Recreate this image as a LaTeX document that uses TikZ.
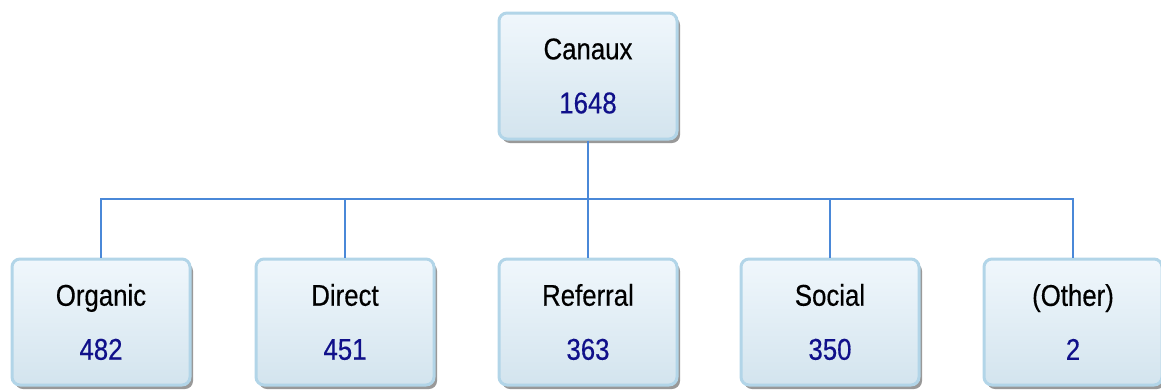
\documentclass[tikz,border=0pt]{standalone}
\usepackage{fontspec}
\usetikzlibrary{shadows}
\newfontfamily\boxfont[FakeStretch=0.86,FakeBold=0.4]{Liberation Sans}
\definecolor{boxborder}{HTML}{B2D5E8}
\definecolor{boxtop}{HTML}{F0F7FC}
\definecolor{boxbot}{HTML}{D3E4EE}
\definecolor{numcol}{HTML}{10108A}
\definecolor{linecol}{HTML}{4A88D8}
\tikzset{
  catbox/.style={draw=boxborder, line width=3pt, rounded corners=8pt,
    top color=boxtop, bottom color=boxbot,
    minimum width=178pt, minimum height=126pt, inner sep=0pt,
    align=center, font=\boxfont\fontsize{30}{54}\selectfont,
    drop shadow={shadow xshift=3pt, shadow yshift=-4pt, fill=black, opacity=0.4}},
  conn/.style={draw=linecol, line width=1.6pt}
}
\newcommand{\boxtxt}[2]{#1\\{\color{numcol}#2}}
\begin{document}
\begin{tikzpicture}[x=1pt,y=-1pt]
\useasboundingbox (0,0) rectangle (1161,389);
\node[catbox] (top) at (588,76) {\boxtxt{Canaux}{1648}};
\node[catbox] (org) at (101,322) {\boxtxt{Organic}{482}};
\node[catbox] (dir) at (345,322) {\boxtxt{Direct}{451}};
\node[catbox] (ref) at (588,322) {\boxtxt{Referral}{363}};
\node[catbox] (soc) at (830,322) {\boxtxt{Social}{350}};
\node[catbox] (oth) at (1073,322) {\boxtxt{(Other)}{2}};
\coordinate (bus) at (588,199);
\draw[conn] (top.south) -- (bus);
\foreach \c in {org,dir,ref,soc,oth}{
  \draw[conn] (\c.north) |- (bus);
}
\end{tikzpicture}
\end{document}
